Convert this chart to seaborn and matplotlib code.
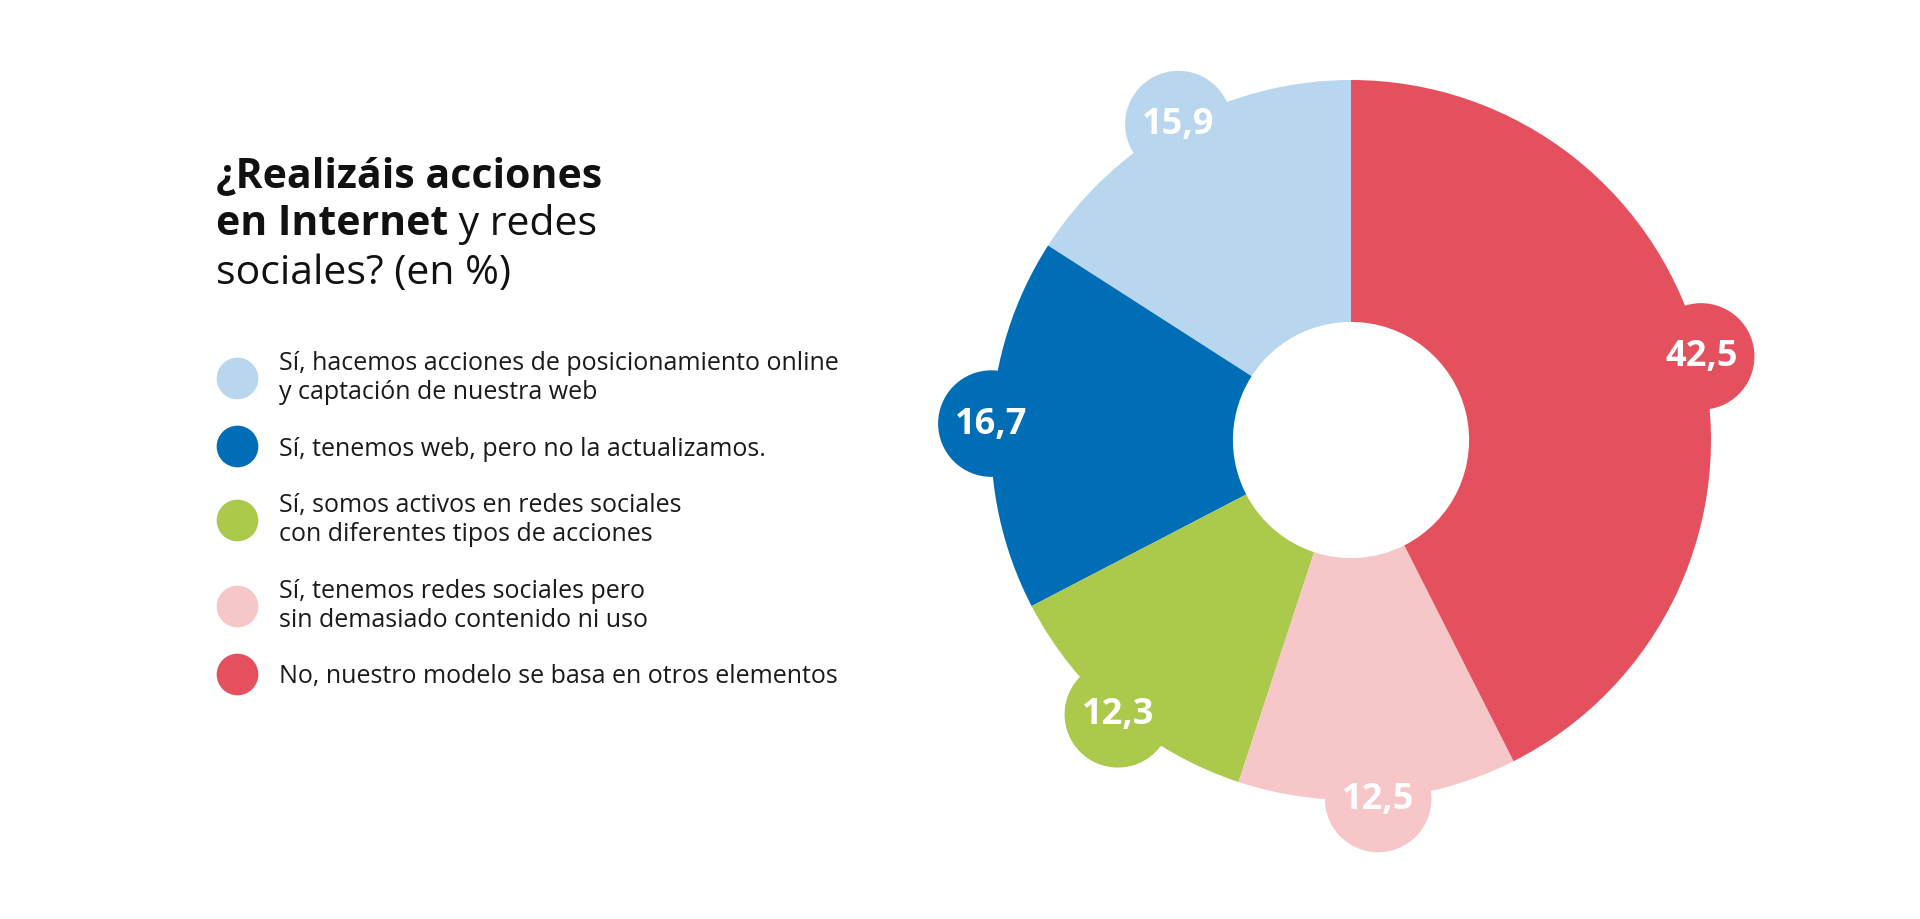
import numpy as np
import seaborn as sns
import matplotlib.pyplot as plt
from matplotlib.lines import Line2D
from matplotlib.patches import Circle

categories = [
    'Sí, hacemos acciones de posicionamiento online\ny captación de nuestra web',
    'Sí, tenemos web, pero no la actualizamos.',
    'Sí, somos activos en redes sociales\ncon diferentes tipos de acciones',
    'Sí, tenemos redes sociales pero\nsin demasiado contenido ni uso',
    'No, nuestro modelo se basa en otros elementos',
]
values = [15.9, 16.7, 12.3, 12.5, 42.5]
colors = ['#b8d7ee', '#006eb7', '#abc94a', '#f7c6c8', '#e4505d']

sns.set_theme(style='white')
plt.rcParams['font.family'] = ['Open Sans', 'DejaVu Sans']

fig = plt.figure(figsize=(19.2, 9.2), dpi=100)
fig.patch.set_facecolor('white')

# donut
ax = fig.add_axes([901 / 1920, 29 / 920, 900 / 1920, 900 / 920])
wedges, _ = ax.pie(
    values, colors=colors, startangle=90, counterclock=True, radius=1,
    wedgeprops=dict(width=0.672, linewidth=0),
)
for w, v, c in zip(wedges, values, colors):
    mid = np.deg2rad((w.theta1 + w.theta2) / 2)
    x, y = 1.0 * np.cos(mid), 1.0 * np.sin(mid)
    ax.add_patch(Circle((x, y), 0.148, facecolor=c, linewidth=0, zorder=1))
    ax.text(x, y, f'{v:.1f}'.replace('.', ','), ha='center', va='center',
            color='white', fontsize=26, fontweight='bold', zorder=3)
ax.set_xlim(-1.25, 1.25)
ax.set_ylim(-1.25, 1.25)
ax.set_aspect('equal')
ax.axis('off')

# title (bold part + regular part on the second line)
tx = 216 / 1920
tcol = '#111111'
tsize = 29.5
fig.text(tx, 1 - 187 / 920, '¿Realizáis acciones', fontsize=tsize,
         fontweight='bold', color=tcol, va='baseline')
t2 = fig.text(tx, 1 - 235 / 920, 'en Internet', fontsize=tsize,
              fontweight='bold', color=tcol, va='baseline')
plt.annotate(' y redes', xy=(1, 0), xycoords=t2, fontsize=tsize, color=tcol,
             va='bottom', annotation_clip=False)
fig.text(tx, 1 - 284 / 920, 'sociales? (en %)', fontsize=tsize,
         color=tcol, va='baseline')

# legend
handles = [Line2D([], [], marker='o', ls='', markersize=30, color=c,
                  markeredgewidth=0) for c in colors]
leg = fig.legend(
    handles, categories, loc='upper left',
    bbox_to_anchor=(216 / 1920, 1 - 351 / 920), frameon=False,
    fontsize=18, handlelength=1.7, handletextpad=0.82, labelspacing=1.27,
    borderpad=0, borderaxespad=0, labelcolor='#1a1a1a',
)
for t in leg.get_texts():
    t.set_linespacing(1.2)

fig.savefig('out.png', dpi=100, facecolor='white')
